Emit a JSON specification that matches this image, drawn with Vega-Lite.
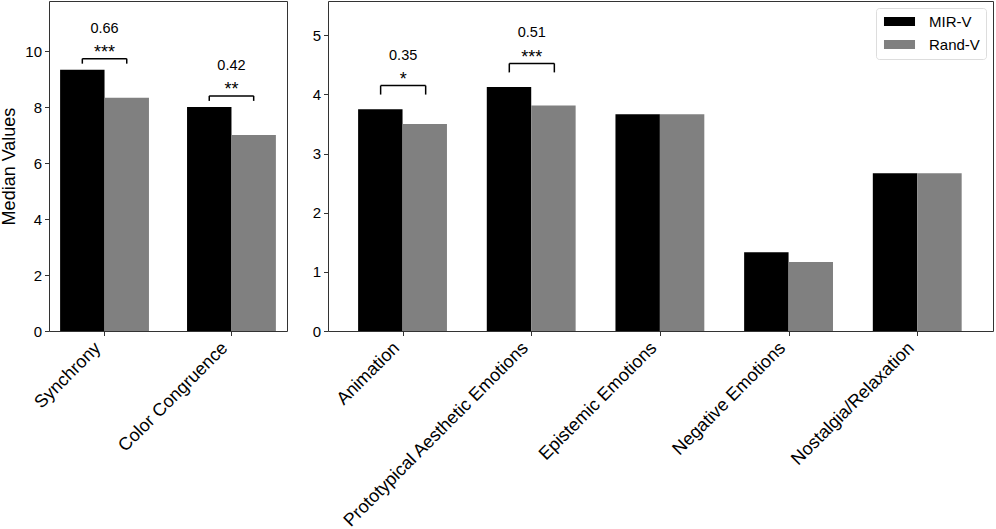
{
  "$schema": "https://vega.github.io/schema/vega-lite/v6.json",
  "background": "white",
  "padding": {"left": 0, "top": 0, "right": 0, "bottom": 0},
  "bounds": "flush",
  "spacing": 41,
  "datasets": {
    "overall": [
      {"category": "Synchrony", "group": "MIR-V", "value": 9.33},
      {"category": "Synchrony", "group": "Rand-V", "value": 8.33},
      {"category": "Color Congruence", "group": "MIR-V", "value": 8.0},
      {"category": "Color Congruence", "group": "Rand-V", "value": 7.0}
    ],
    "emotions": [
      {"category": "Animation", "group": "MIR-V", "value": 3.75},
      {"category": "Animation", "group": "Rand-V", "value": 3.5},
      {"category": "Prototypical Aesthetic Emotions", "group": "MIR-V", "value": 4.125},
      {"category": "Prototypical Aesthetic Emotions", "group": "Rand-V", "value": 3.8125},
      {"category": "Epistemic Emotions", "group": "MIR-V", "value": 3.667},
      {"category": "Epistemic Emotions", "group": "Rand-V", "value": 3.667},
      {"category": "Negative Emotions", "group": "MIR-V", "value": 1.333},
      {"category": "Negative Emotions", "group": "Rand-V", "value": 1.167},
      {"category": "Nostalgia/Relaxation", "group": "MIR-V", "value": 2.667},
      {"category": "Nostalgia/Relaxation", "group": "Rand-V", "value": 2.667}
    ],
    "overallSig": [
      {"category": "Synchrony", "bracket": 9.73, "stars": "***", "effect": "0.66"},
      {"category": "Color Congruence", "bracket": 8.4, "stars": "**", "effect": "0.42"}
    ],
    "emotionsSig": [
      {"category": "Animation", "bracket": 4.15, "stars": "*", "effect": "0.35"},
      {"category": "Prototypical Aesthetic Emotions", "bracket": 4.525, "stars": "***", "effect": "0.51"}
    ]
  },
  "hconcat": [
    {
      "width": 238,
      "height": 330,
      "layer": [
        {
          "data": {"name": "overall"},
          "mark": {"type": "bar"},
          "encoding": {
            "x": {
              "field": "category",
              "type": "nominal",
              "title": null,
              "scale": {"domain": ["Synchrony", "Color Congruence"], "paddingInner": 0.3, "paddingOuter": 0.0875}
            },
            "xOffset": {
              "field": "group",
              "type": "nominal",
              "scale": {"domain": ["MIR-V", "Rand-V"], "paddingInner": 0, "paddingOuter": 0}
            },
            "y": {
              "field": "value",
              "type": "quantitative",
              "title": "Median Values",
              "scale": {"domain": [0, 11.79], "nice": false},
              "axis": {"values": [0, 2, 4, 6, 8, 10]}
            },
            "color": {
              "field": "group",
              "type": "nominal",
              "scale": {"domain": ["MIR-V", "Rand-V"], "range": ["#000000", "#808080"]},
              "legend": null
            }
          }
        },
        {
          "data": {"name": "overallSig"},
          "mark": {"type": "rule", "color": "black", "strokeWidth": 1.5},
          "encoding": {
            "x": {"field": "category", "type": "nominal", "bandPosition": 0.25},
            "x2": {"field": "category", "bandPosition": 0.75},
            "y": {"field": "bracket", "type": "quantitative"}
          }
        },
        {
          "data": {"name": "overallSig"},
          "mark": {"type": "rule", "color": "black", "strokeWidth": 1.5, "y2Offset": 5},
          "encoding": {
            "x": {"field": "category", "type": "nominal", "bandPosition": 0.25},
            "y": {"field": "bracket", "type": "quantitative"},
            "y2": {"field": "bracket"}
          }
        },
        {
          "data": {"name": "overallSig"},
          "mark": {"type": "rule", "color": "black", "strokeWidth": 1.5, "y2Offset": 5},
          "encoding": {
            "x": {"field": "category", "type": "nominal", "bandPosition": 0.75},
            "y": {"field": "bracket", "type": "quantitative"},
            "y2": {"field": "bracket"}
          }
        },
        {
          "data": {"name": "overallSig"},
          "mark": {"type": "text", "fontSize": 18, "dy": -0.5, "baseline": "alphabetic", "color": "black"},
          "encoding": {
            "x": {"field": "category", "type": "nominal", "bandPosition": 0.5},
            "y": {"field": "bracket", "type": "quantitative"},
            "text": {"field": "stars"}
          }
        },
        {
          "data": {"name": "overallSig"},
          "mark": {"type": "text", "fontSize": 14.5, "dy": -26, "baseline": "alphabetic", "color": "black"},
          "encoding": {
            "x": {"field": "category", "type": "nominal", "bandPosition": 0.5},
            "y": {"field": "bracket", "type": "quantitative"},
            "text": {"field": "effect"}
          }
        }
      ]
    },
    {
      "width": 665,
      "height": 330,
      "layer": [
        {
          "data": {"name": "emotions"},
          "mark": {"type": "bar"},
          "encoding": {
            "x": {
              "field": "category",
              "type": "nominal",
              "title": null,
              "scale": {
                "domain": ["Animation", "Prototypical Aesthetic Emotions", "Epistemic Emotions", "Negative Emotions", "Nostalgia/Relaxation"],
                "paddingInner": 0.3,
                "paddingOuter": 0.234
              }
            },
            "xOffset": {
              "field": "group",
              "type": "nominal",
              "scale": {"domain": ["MIR-V", "Rand-V"], "paddingInner": 0, "paddingOuter": 0}
            },
            "y": {
              "field": "value",
              "type": "quantitative",
              "title": null,
              "scale": {"domain": [0, 5.58], "nice": false},
              "axis": {"values": [0, 1, 2, 3, 4, 5], "format": "d"}
            },
            "color": {
              "field": "group",
              "type": "nominal",
              "scale": {"domain": ["MIR-V", "Rand-V"], "range": ["#000000", "#808080"]},
              "legend": {
                "title": null,
                "orient": "top-right",
                "offset": 7,
                "strokeColor": "#dddddd",
                "fillColor": "white",
                "cornerRadius": 3,
                "padding": 6,
                "symbolType": "M-3,-0.87L3,-0.87L3,0.87L-3,0.87Z",
                "symbolSize": 107,
                "symbolStrokeWidth": 0,
                "symbolOffset": 10,
                "labelFontSize": 15,
                "labelOffset": 22,
                "rowPadding": 7,
                "labelColor": "black"
              }
            }
          }
        },
        {
          "data": {"name": "emotionsSig"},
          "mark": {"type": "rule", "color": "black", "strokeWidth": 1.5},
          "encoding": {
            "x": {"field": "category", "type": "nominal", "bandPosition": 0.25},
            "x2": {"field": "category", "bandPosition": 0.75},
            "y": {"field": "bracket", "type": "quantitative"}
          }
        },
        {
          "data": {"name": "emotionsSig"},
          "mark": {"type": "rule", "color": "black", "strokeWidth": 1.5, "y2Offset": 9},
          "encoding": {
            "x": {"field": "category", "type": "nominal", "bandPosition": 0.25},
            "y": {"field": "bracket", "type": "quantitative"},
            "y2": {"field": "bracket"}
          }
        },
        {
          "data": {"name": "emotionsSig"},
          "mark": {"type": "rule", "color": "black", "strokeWidth": 1.5, "y2Offset": 9},
          "encoding": {
            "x": {"field": "category", "type": "nominal", "bandPosition": 0.75},
            "y": {"field": "bracket", "type": "quantitative"},
            "y2": {"field": "bracket"}
          }
        },
        {
          "data": {"name": "emotionsSig"},
          "mark": {"type": "text", "fontSize": 18, "dy": -0.5, "baseline": "alphabetic", "color": "black"},
          "encoding": {
            "x": {"field": "category", "type": "nominal", "bandPosition": 0.5},
            "y": {"field": "bracket", "type": "quantitative"},
            "text": {"field": "stars"}
          }
        },
        {
          "data": {"name": "emotionsSig"},
          "mark": {"type": "text", "fontSize": 14.5, "dy": -26, "baseline": "alphabetic", "color": "black"},
          "encoding": {
            "x": {"field": "category", "type": "nominal", "bandPosition": 0.5},
            "y": {"field": "bracket", "type": "quantitative"},
            "text": {"field": "effect"}
          }
        }
      ]
    }
  ],
  "resolve": {
    "scale": {"x": "independent", "y": "independent", "color": "independent"},
    "legend": {"color": "independent"}
  },
  "config": {
    "font": "Liberation Sans",
    "view": {"stroke": "#333333", "strokeWidth": 1},
    "axis": {
      "grid": false,
      "domain": false,
      "tickColor": "#333333",
      "tickSize": 4.5,
      "labelColor": "black",
      "labelFontSize": 15,
      "labelPadding": 3,
      "titleFontSize": 18,
      "titleFontWeight": "normal",
      "titleColor": "black",
      "titlePadding": 6
    },
    "axisX": {"labelAngle": -45, "labelAlign": "right", "labelBaseline": "bottom", "labelFontSize": 18, "labelPadding": 16, "labelLimit": 0}
  }
}
